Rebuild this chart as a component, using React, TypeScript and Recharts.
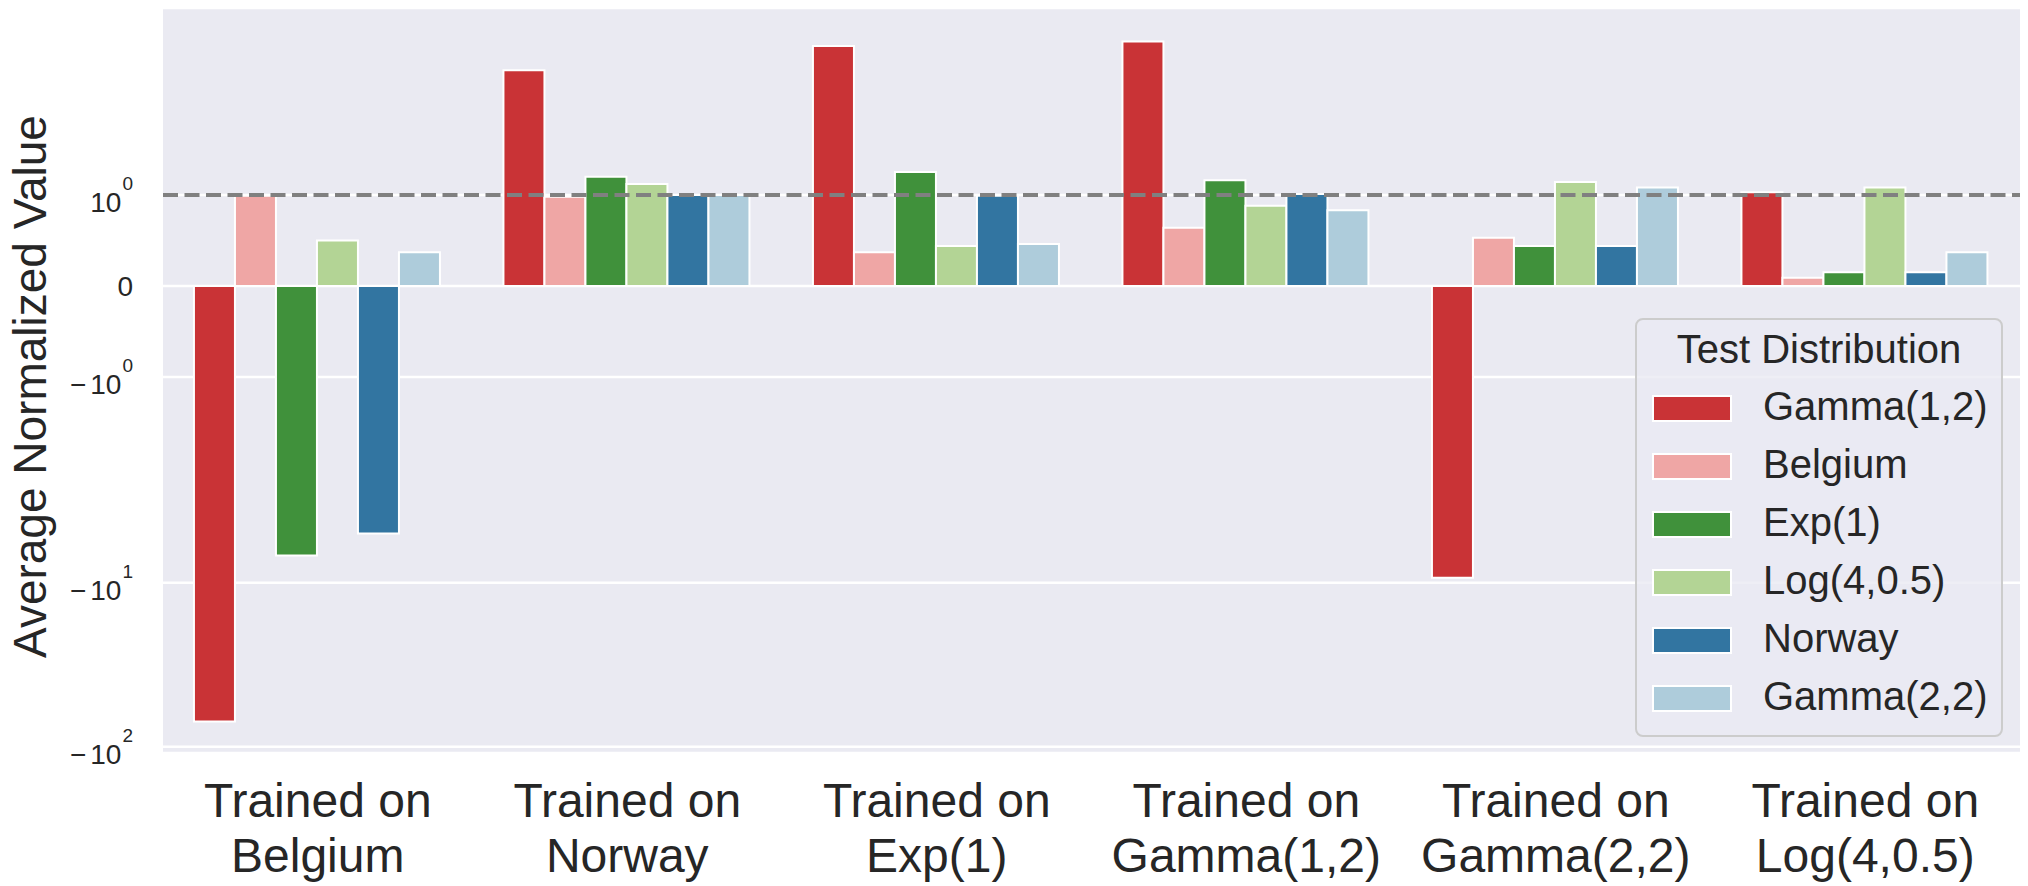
import React from "react";
import {
  Bar,
  BarChart,
  CartesianGrid,
  Legend,
  ReferenceLine,
  XAxis,
  YAxis,
} from "recharts";

// training sets (x categories) and test distributions (hue)
const trainedOn = ["Belgium", "Norway", "Exp(1)", "Gamma(1,2)", "Gamma(2,2)", "Log(4,0.5)"];
const testDists = ["Gamma(1,2)", "Belgium", "Exp(1)", "Log(4,0.5)", "Norway", "Gamma(2,2)"];

const gamma12Vals = [-70, 3.2, 4.5, 4.8, -9.3, 1.03];
const belgiumVals = [0.99, 0.98, 0.37, 0.64, 0.53, 0.09];
const exp1Vals = [-6.8, 1.2, 1.25, 1.16, 0.44, 0.15];
const log405Vals = [0.5, 1.12, 0.44, 0.88, 1.14, 1.08];
const norwayVals = [-5.0, 1.0, 0.99, 1.01, 0.44, 0.15];
const gamma22Vals = [0.37, 1.0, 0.46, 0.83, 1.08, 0.37];

const seriesVals = [gamma12Vals, belgiumVals, exp1Vals, log405Vals, norwayVals, gamma22Vals];
const colors = ["#c93336", "#efa6a5", "#40913b", "#b3d495", "#3275a1", "#aeccdb"];

const yTickValues = [1, 0, -1, -10, -100];
const refValue = 1;

// matplotlib-style symlog, linthresh 2, linscale 1
const LINTHRESH = 2;
const LINSCALE_ADJ = 1 / (1 - 1 / 10);
const symlog = (v: number) => {
  const a = Math.abs(v);
  if (a <= LINTHRESH) return v * LINSCALE_ADJ;
  return Math.sign(v) * LINTHRESH * (LINSCALE_ADJ + Math.log10(a / LINTHRESH));
};

const FONT = "'Liberation Sans', Arial, sans-serif";
const TEXT = "#262626";

const data = trainedOn.map((name, i) => {
  const row: Record<string, number | string> = { name };
  seriesVals.forEach((vals, j) => {
    row[`s${j}`] = symlog(vals[i]);
  });
  return row;
});

const YTick = ({ x, y, payload }: any) => {
  const v = yTickValues.find((t) => Math.abs(symlog(t) - payload.value) < 1e-6);
  if (v === undefined) return null;
  if (v === 0) {
    return (
      <text x={x - 30} y={y + 10} textAnchor="end" fontSize={28} fill={TEXT} fontFamily={FONT}>
        0
      </text>
    );
  }
  const exp = Math.round(Math.log10(Math.abs(v)));
  return (
    <text x={x - 30} y={y + 17} textAnchor="end" fontSize={28} fill={TEXT} fontFamily={FONT}>
      {v < 0 && <tspan>{"\u2212"}</tspan>}
      <tspan dx={v < 0 ? 4 : 0}>10</tspan>
      <tspan dx={1} dy={-22} fontSize={19}>
        {exp}
      </tspan>
    </text>
  );
};

const XTick = ({ x, y, payload }: any) => (
  <text textAnchor="middle" fontSize={48} fill={TEXT} fontFamily={FONT}>
    <tspan x={x} y={y + 64}>Trained on</tspan>
    <tspan x={x} y={y + 119}>{payload.value}</tspan>
  </text>
);

const YTitle = ({ viewBox }: any) => {
  const cy = viewBox.y + viewBox.height / 2 + 6;
  return (
    <text
      x={46}
      y={cy}
      transform={`rotate(-90, 46, ${cy})`}
      textAnchor="middle"
      fontSize={46}
      fill={TEXT}
      fontFamily={FONT}
    >
      Average Normalized Value
    </text>
  );
};

const LegendBox = () => (
  <div
    style={{
      position: "relative",
      boxSizing: "border-box",
      width: 368,
      height: 419,
      border: "2px solid #cccccc",
      borderRadius: 8,
      background: "rgba(234,234,242,0.8)",
      fontFamily: FONT,
      color: TEXT,
    }}
  >
    <div
      style={{
        position: "absolute",
        left: 0,
        right: 0,
        top: 5,
        textAlign: "center",
        fontSize: 40,
        lineHeight: "48px",
      }}
    >
      Test Distribution
    </div>
    {testDists.map((name, i) => (
      <div key={name} style={{ position: "absolute", left: 0, right: 0, top: 60 + 58 * i, height: 58 }}>
        <div
          style={{
            position: "absolute",
            left: 15,
            top: 15,
            width: 80,
            height: 27,
            boxSizing: "border-box",
            border: "2px solid #fff",
            background: colors[i],
          }}
        />
        <div
          style={{
            position: "absolute",
            left: 126,
            top: -3,
            fontSize: 40,
            lineHeight: "58px",
            whiteSpace: "nowrap",
          }}
        >
          {name}
        </div>
      </div>
    ))}
  </div>
);

export default function App() {
  return (
    <div style={{ position: "absolute", left: 0, top: 0, background: "#fff" }}>
      <BarChart
        width={2028}
        height={886}
        data={data}
        margin={{ top: 8, right: 8, left: 0, bottom: 0 }}
        barCategoryGap="10%"
        barGap={0}
      >
        <CartesianGrid vertical={false} stroke="#ffffff" strokeWidth={2.5} fill="#eaeaf2" fillOpacity={1} />
        <XAxis
          dataKey="name"
          height={133}
          interval={0}
          axisLine={false}
          tickLine={false}
          tickSize={0}
          tickMargin={0}
          tick={<XTick />}
        />
        <YAxis
          type="number"
          width={163}
          domain={[-5.695, 3.39]}
          allowDataOverflow
          ticks={yTickValues.map(symlog)}
          interval={0}
          axisLine={false}
          tickLine={false}
          tickSize={0}
          tickMargin={0}
          tick={<YTick />}
          label={<YTitle />}
        />
        {testDists.map((name, j) => (
          <Bar
            key={name}
            dataKey={`s${j}`}
            name={name}
            fill={colors[j]}
            stroke="#ffffff"
            strokeWidth={2}
            isAnimationActive={false}
          />
        ))}
        <ReferenceLine y={symlog(refValue)} stroke="#808080" strokeWidth={4} strokeDasharray="15 6.5" />
        <Legend
          layout="vertical"
          align="center"
          verticalAlign="middle"
          content={<LegendBox />}
          wrapperStyle={{ left: 1635, top: 318, width: 368, height: 419 }}
        />
      </BarChart>
    </div>
  );
}
